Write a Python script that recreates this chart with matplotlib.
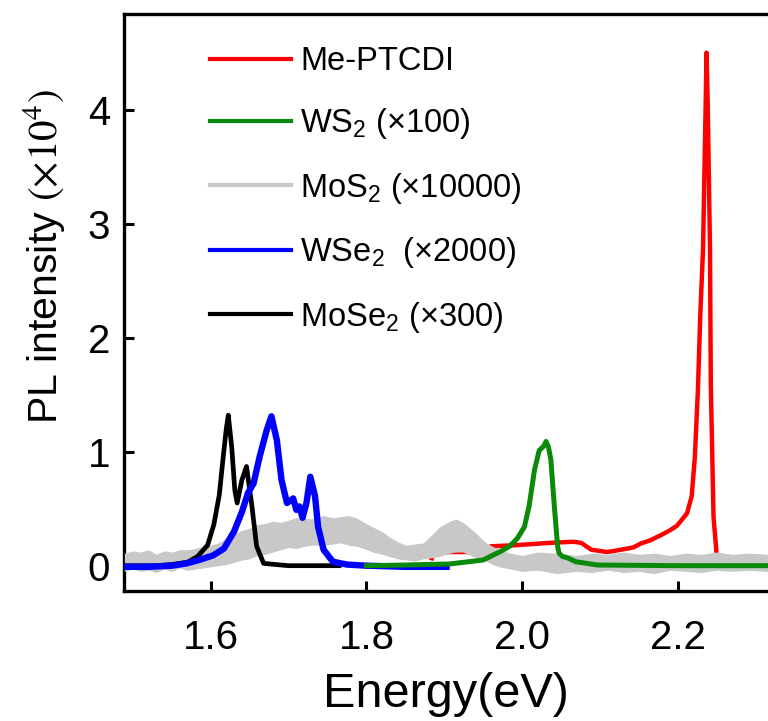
import matplotlib
matplotlib.use("Agg")
import matplotlib.pyplot as plt
from matplotlib.lines import Line2D

plt.rcParams['font.family'] = ['Liberation Sans', 'DejaVu Sans']
plt.rcParams['mathtext.fontset'] = 'custom'
plt.rcParams['mathtext.rm'] = 'Liberation Sans'
plt.rcParams['mathtext.it'] = 'Liberation Sans:italic'

# Me-PTCDI (red)
red_x = [1.884, 1.886, 1.907, 1.933, 1.941, 1.960, 1.992, 2.035, 2.066, 2.076, 2.089,
         2.109, 2.119, 2.143, 2.153, 2.164, 2.179, 2.190, 2.199, 2.205, 2.212, 2.218,
         2.222, 2.226, 2.229, 2.2325, 2.236, 2.237, 2.2385, 2.2415, 2.2425, 2.246,
         2.250, 2.2525]
red_y = [0.065, 0.11, 0.12, 0.12, 0.10, 0.17, 0.18, 0.20, 0.21, 0.20, 0.14,
         0.12, 0.13, 0.16, 0.196, 0.22, 0.27, 0.31, 0.35, 0.40, 0.46, 0.61,
         0.95, 1.55, 2.2, 2.77, 4.08, 4.50, 4.08, 2.77, 1.60, 0.43,
         0.10, 0.05]

# WS2 x100 (green)
green_x = [1.80, 1.843, 1.907, 1.950, 1.971, 1.984, 1.994, 2.003, 2.009, 2.016, 2.022,
           2.028, 2.0308, 2.034, 2.037, 2.0415, 2.0457, 2.0475, 2.052, 2.058, 2.069,
           2.097, 2.20, 2.316]
green_y = [0.0, 0.005, 0.015, 0.05, 0.12, 0.17, 0.24, 0.34, 0.52, 0.84, 1.01,
           1.05, 1.09, 1.04, 0.93, 0.52, 0.17, 0.11, 0.08, 0.07, 0.035,
           0.006, 0.0, 0.0]

# MoS2 x10000 (grey, noisy band: lower / upper edge)
mos2_x = [1.489, 1.50, 1.51, 1.52, 1.53, 1.54, 1.55, 1.56, 1.57, 1.58, 1.59, 1.60,
          1.61, 1.62, 1.63, 1.64, 1.65, 1.66, 1.67, 1.68, 1.69, 1.70, 1.71, 1.72,
          1.73, 1.745, 1.757, 1.767, 1.777, 1.787, 1.797, 1.808, 1.82, 1.83, 1.84,
          1.851, 1.862, 1.873, 1.884, 1.894, 1.907, 1.915, 1.924, 1.937, 1.946,
          1.954, 1.962, 1.971, 1.985, 2.0, 2.02, 2.044, 2.07, 2.09, 2.11, 2.13,
          2.15, 2.17, 2.19, 2.21, 2.23, 2.25, 2.27, 2.29, 2.316]
mos2_lo = [-0.05, -0.03, -0.05, -0.04, -0.06, -0.03, -0.05, -0.02, -0.04, -0.03, -0.02, -0.01,
           0.0, 0.01, 0.03, 0.05, 0.06, 0.09, 0.10, 0.12, 0.14, 0.16, 0.15, 0.17,
           0.18, 0.18, 0.19, 0.20, 0.18, 0.17, 0.15, 0.12, 0.10, 0.08, 0.06,
           0.05, 0.04, 0.06, 0.07, 0.08, 0.11, 0.12, 0.12, 0.08, 0.06,
           0.04, 0.01, -0.01, -0.03, -0.05, -0.04, -0.07, -0.05, -0.06, -0.04, -0.06,
           -0.05, -0.07, -0.04, -0.05, -0.06, -0.04, -0.05, -0.04, -0.05]
mos2_hi = [0.11, 0.13, 0.12, 0.14, 0.10, 0.13, 0.12, 0.14, 0.14, 0.15, 0.17, 0.18,
           0.20, 0.24, 0.28, 0.31, 0.33, 0.36, 0.37, 0.39, 0.38, 0.40, 0.42, 0.42,
           0.41, 0.44, 0.42, 0.43, 0.44, 0.42, 0.38, 0.34, 0.30, 0.25, 0.21,
           0.18, 0.19, 0.20, 0.27, 0.34, 0.39, 0.41, 0.38, 0.31, 0.25,
           0.20, 0.17, 0.14, 0.11, 0.09, 0.12, 0.11, 0.09, 0.11, 0.10, 0.12,
           0.10, 0.11, 0.09, 0.11, 0.10, 0.12, 0.10, 0.11, 0.10]

# WSe2 x2000 (blue)
blue_x = [1.489, 1.52, 1.55, 1.569, 1.585, 1.603, 1.617, 1.630, 1.640, 1.648, 1.655,
          1.663, 1.672, 1.678, 1.685, 1.691, 1.698, 1.702, 1.706, 1.710, 1.714, 1.718,
          1.723, 1.728, 1.734, 1.738, 1.745, 1.757, 1.775, 1.80, 1.85, 1.903]
blue_y = [-0.01, -0.01, 0.0, 0.02, 0.05, 0.09, 0.15, 0.30, 0.47, 0.64, 0.72,
          0.96, 1.19, 1.31, 1.10, 0.75, 0.55, 0.57, 0.59, 0.49, 0.52, 0.42,
          0.55, 0.78, 0.61, 0.34, 0.14, 0.035, 0.01, 0.0, -0.01, -0.01]

# MoSe2 x300 (black)
black_x = [1.489, 1.53, 1.55, 1.57, 1.583, 1.596, 1.604, 1.611, 1.616, 1.620, 1.6226,
           1.627, 1.631, 1.634, 1.640, 1.646, 1.653, 1.659, 1.668, 1.70, 1.765]
black_y = [0.0, 0.0, 0.01, 0.03, 0.08, 0.18, 0.36, 0.62, 0.95, 1.20, 1.32,
           1.04, 0.66, 0.55, 0.75, 0.87, 0.52, 0.17, 0.02, 0.0, 0.0]

labels = ['Me-PTCDI', r'WS$_2$ (×100)', r'MoS$_2$ (×10000)',
          r'WSe$_2$  (×2000)', r'MoSe$_2$ (×300)']
colors = ['#ff0000', '#0a8a0a', '#c8c8c8', '#0000ff', '#000000']

xticks = [1.6, 1.8, 2.0, 2.2]
yticks = [0, 1, 2, 3, 4]

fig = plt.figure(figsize=(7.68, 7.21), dpi=100)
ax = fig.add_axes([124 / 768, 130 / 721, 644 / 768, 577 / 721])

ax.plot(red_x, red_y, color=colors[0], lw=3.2, zorder=2)
ax.fill_between(mos2_x, mos2_lo, mos2_hi, color=colors[2], lw=0, zorder=3)
ax.plot(black_x, black_y, color=colors[4], lw=3.4, zorder=4)
ax.plot(blue_x, blue_y, color=colors[3], lw=4.6, zorder=5)
ax.plot(green_x, green_y, color=colors[1], lw=3.6, zorder=6)

ax.set_xlim(1.4886, 2.316)
ax.set_ylim(-0.222, 4.839)
ax.set_xticks(xticks)
ax.set_xticklabels(['%.1f' % v for v in xticks])
ax.set_yticks(yticks)

ax.tick_params(direction='in', length=7, width=2.2, labelsize=29)
ax.tick_params(axis='x', pad=20)
ax.tick_params(axis='y', pad=10)
for s in ['left', 'bottom', 'top']:
    ax.spines[s].set_linewidth(2.4)
ax.spines['right'].set_visible(False)

ax.set_xlabel('Energy(eV)', fontsize=35, labelpad=11)
ax.set_ylabel(r'PL intensity $(\times10^4)$', fontsize=29.5, math_fontfamily='stix')
ax.yaxis.set_label_coords(-0.088, 0.58)

handles = [Line2D([], [], color=c, lw=3) for c in colors]
ax.legend(handles, labels, loc='upper left', bbox_to_anchor=(0.113, 0.967),
          frameon=False, fontsize=23.5, handlelength=2.5, handletextpad=0.27,
          labelspacing=0.9, borderaxespad=0)

fig.savefig('out.png', dpi=100)
